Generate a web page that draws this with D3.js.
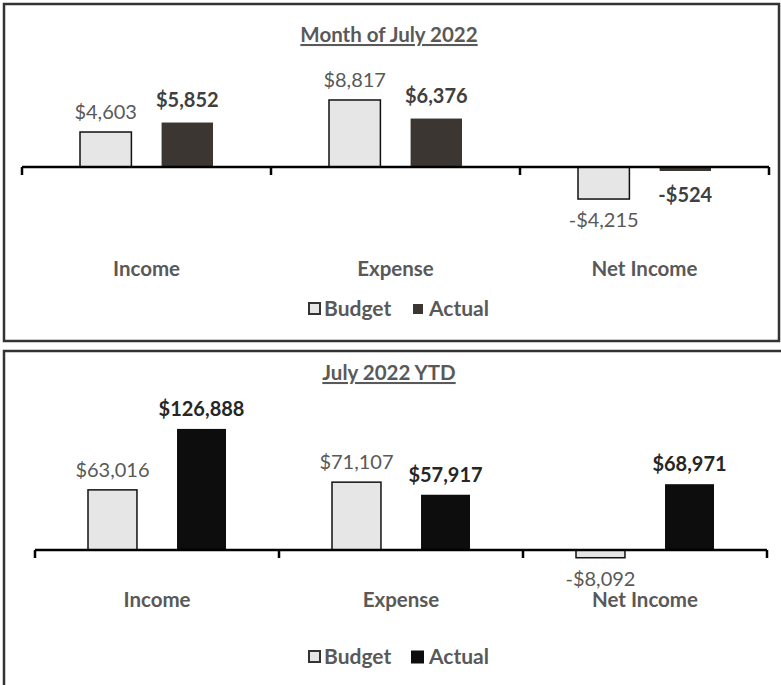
<!DOCTYPE html>
<html lang="en">
<head>
<meta charset="UTF-8">
<title>Budget vs Actual July 2022</title>
<script src="https://cdn.jsdelivr.net/npm/d3@7"></script>
<style>
	body { margin: 0; background: #fff; }
	text { font-family: Lato, "Open Sans", sans-serif; }
	.val-budget { fill: #595959; font-size: 20px; }
	.val-actual { fill: #404040; font-size: 20px; font-weight: bold; }
	.cat { fill: #595959; font-size: 20.5px; font-weight: bold; }
	.title { fill: #595959; font-size: 20.5px; font-weight: bold; text-decoration: underline; }
	.leg { fill: #595959; font-size: 21px; font-weight: bold; }
</style>
</head>
<body>
<script>
	var categories = ['Income', 'Expense', 'Net Income'];
	var seriesNames = ['Budget', 'Actual'];
	var titles = ['Month of July 2022', 'July 2022 YTD'];

	var monthBudget = [4603, 8817, -4215];
	var monthActual = [5852, 6376, -524];
	var ytdBudget = [63016, 71107, -8092];
	var ytdActual = [126888, 57917, 68971];

	var fmt = function(v){ return (v < 0 ? '-$' : '$') + d3.format(',')(Math.abs(v)); };

	var svg = d3.select('body').append('svg')
		.attr('width', 781)
		.attr('height', 685);

	// panel frames
	svg.append('path')
		.attr('d', 'M4,341 L4,4 L779,4 L779,341 Z')
		.attr('fill', 'none').attr('stroke', '#333').attr('stroke-width', 2.5);
	svg.append('path')
		.attr('d', 'M4,690 L4,351 L781,351')
		.attr('fill', 'none').attr('stroke', '#333').attr('stroke-width', 2.5);

	function drawPanel(p){
		var g = svg.append('g');
		var budget = p.budget, actual = p.actual;

		var x0 = d3.scaleBand().domain(categories).range(p.xRange);
		var x1 = d3.scaleBand().domain(seriesNames)
			.range([p.pad, x0.bandwidth() - p.pad])
			.paddingInner(p.inner);
		var y = d3.scaleLinear().domain(p.yDomain).range(p.yRange);

		var rows = categories.map(function(c, i){
			return { cat: c, vals: [ {s: 'Budget', v: budget[i]}, {s: 'Actual', v: actual[i]} ] };
		});

		g.append('text').attr('class', 'title')
			.attr('x', 389).attr('y', p.titleY)
			.attr('text-anchor', 'middle')
			.text(p.title);

		var grp = g.selectAll('.grp').data(rows).enter().append('g')
			.attr('transform', function(d){ return 'translate(' + x0(d.cat) + ',0)'; });

		grp.selectAll('rect').data(function(d){ return d.vals; }).enter().append('rect')
			.attr('x', function(d){ return x1(d.s); })
			.attr('width', x1.bandwidth())
			.attr('y', function(d){ return y(Math.max(0, d.v)); })
			.attr('height', function(d){ return Math.abs(y(d.v) - y(0)); })
			.attr('fill', function(d){ return d.s === 'Budget' ? '#e7e6e6' : p.actualColor; })
			.attr('stroke', function(d){ return d.s === 'Budget' ? '#111' : 'none'; })
			.attr('stroke-width', 1.5);

		grp.selectAll('.v').data(function(d){ return d.vals; }).enter().append('text')
			.attr('class', function(d){ return d.s === 'Budget' ? 'val-budget' : 'val-actual'; })
			.attr('x', function(d){ return x1(d.s) + x1.bandwidth() / 2; })
			.attr('y', function(d){
				var off = d.s === 'Budget' ? p.offB : p.offA;
				return d.v >= 0 ? y(d.v) - off : y(d.v) + off + 15;
			})
			.attr('text-anchor', 'middle')
			.style('fill', function(d){ return d.s === 'Actual' ? p.actualText : null; })
			.text(function(d){ return fmt(d.v); });

		// axis line with ticks on category edges
		var edges = categories.map(function(c){ return x0(c); }).concat([p.xRange[1]]);
		g.append('line')
			.attr('x1', p.xRange[0]).attr('x2', p.xRange[1])
			.attr('y1', y(0)).attr('y2', y(0))
			.attr('stroke', '#000').attr('stroke-width', 2.5);
		g.selectAll('.tk').data(edges).enter().append('line')
			.attr('x1', function(d){ return d; }).attr('x2', function(d){ return d; })
			.attr('y1', y(0)).attr('y2', y(0) + 8)
			.attr('stroke', '#000').attr('stroke-width', 2.5);

		g.selectAll('.cat').data(categories).enter().append('text')
			.attr('class', 'cat')
			.attr('x', function(c){ return x0(c) + x0.bandwidth() / 2; })
			.attr('y', p.catY)
			.attr('text-anchor', 'middle')
			.text(function(c){ return c; });

		// legend
		var leg = g.append('g').attr('transform', 'translate(0,' + p.legY + ')');
		leg.append('rect').attr('x', 309).attr('y', -6).attr('width', 11).attr('height', 11)
			.attr('fill', '#e7e6e6').attr('stroke', '#333').attr('stroke-width', 2);
		leg.append('text').attr('class', 'leg').attr('x', 324).attr('y', 7).text(seriesNames[0]);
		leg.append('rect').attr('x', p.legA).attr('y', -p.legS / 2).attr('width', p.legS).attr('height', p.legS)
			.attr('fill', p.actualColor);
		leg.append('text').attr('class', 'leg').attr('x', 429).attr('y', 7).text(seriesNames[1]);
	}

	drawPanel({
		title: titles[0], budget: monthBudget, actual: monthActual,
		xRange: [22, 769], pad: 58, inner: 0.37,
		yDomain: [-10000, 10000], yRange: [243, 91],
		actualColor: '#3b3631', actualText: '#404040',
		titleY: 42, catY: 276, legY: 309, legA: 413, legS: 10,
		offB: 13, offA: 16
	});

	drawPanel({
		title: titles[1], budget: ytdBudget, actual: ytdActual,
		xRange: [35, 767], pad: 53, inner: 0.45,
		yDomain: [-20000, 140000], yRange: [569.1, 416.4],
		actualColor: '#0d0d0d', actualText: '#262626',
		titleY: 380, catY: 607, legY: 657, legA: 411, legS: 13,
		offB: 13, offA: 13
	});
</script>
</body>
</html>
